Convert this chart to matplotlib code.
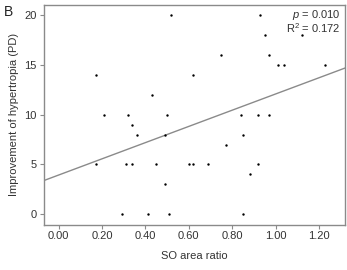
import numpy as np
import matplotlib
matplotlib.use("Agg")
import matplotlib.pyplot as plt

plt.rcParams['font.family'] = ['Liberation Sans', 'DejaVu Sans']
plt.rcParams['mathtext.fontset'] = 'custom'
plt.rcParams['mathtext.rm'] = 'Liberation Sans'
plt.rcParams['mathtext.it'] = 'Liberation Sans:italic'

so_ratio = [0.17, 0.21, 0.32, 0.34, 0.36, 0.43, 0.49, 0.50, 0.52, 0.62, 0.75, 0.84,
            0.85, 0.92, 0.93, 0.95, 0.97, 0.97, 1.01, 1.04, 1.12, 1.23,
            0.17, 0.29, 0.31, 0.34, 0.41, 0.45, 0.49, 0.51, 0.60, 0.62, 0.69,
            0.77, 0.85, 0.88, 0.92]
improvement = [14, 10, 10, 9, 8, 12, 8, 10, 20, 14, 16, 10,
               8, 10, 20, 18, 16, 10, 15, 15, 18, 15,
               5, 0, 5, 5, 0, 5, 3, 0, 5, 5, 5,
               7, 0, 4, 5]
xticks = [0.0, 0.2, 0.4, 0.6, 0.8, 1.0, 1.2]
yticks = [0, 5, 10, 15, 20]
p_text = "0.010"
r2_text = "0.172"

W, H = 347, 270
fig = plt.figure(figsize=(W/100, H/100), dpi=100)
ax = fig.add_axes([43.5/W, 1 - 224.5/H, (345 - 43.5)/W, (224.5 - 4.5)/H])

x = np.array(so_ratio)
y = np.array(improvement)
ax.scatter(x, y, s=3, c='black', linewidths=0, zorder=3)

slope, intercept = np.polyfit(x, y, 1)
xl = np.array([-0.07, 1.32])
ax.plot(xl, intercept + slope * xl, color='#8a8a8a', lw=1.0, zorder=2)

ax.set_xlim(-0.07, 1.32)
ax.set_ylim(-1.05, 21.1)
ax.set_xticks(xticks)
ax.set_xticklabels([f"{v:.2f}" for v in xticks])
ax.set_yticks(yticks)
for s in ax.spines.values():
    s.set_color('#8a8a8a')
    s.set_linewidth(1.0)
ax.tick_params(axis='both', colors='#8a8a8a', labelcolor='#333333', labelsize=8,
               length=3, width=0.8, direction='out', pad=2)
ax.set_xlabel("SO area ratio", fontsize=8, color='#333333', labelpad=7)
ax.set_ylabel("Improvement of hypertropia (PD)", fontsize=8, color='#333333', labelpad=4)

ax.text(0.985, 0.985, r"$\it{p}$ = " + p_text, transform=ax.transAxes, ha='right', va='top',
        fontsize=8, color='#333333')
ax.text(0.985, 0.925, r"R$^2$ = " + r2_text, transform=ax.transAxes, ha='right', va='top',
        fontsize=8, color='#333333')
fig.text(4/W, 1 - 5/H, "B", fontsize=10, color='#222222', ha='left', va='top')

fig.savefig("out.png", dpi=100)
